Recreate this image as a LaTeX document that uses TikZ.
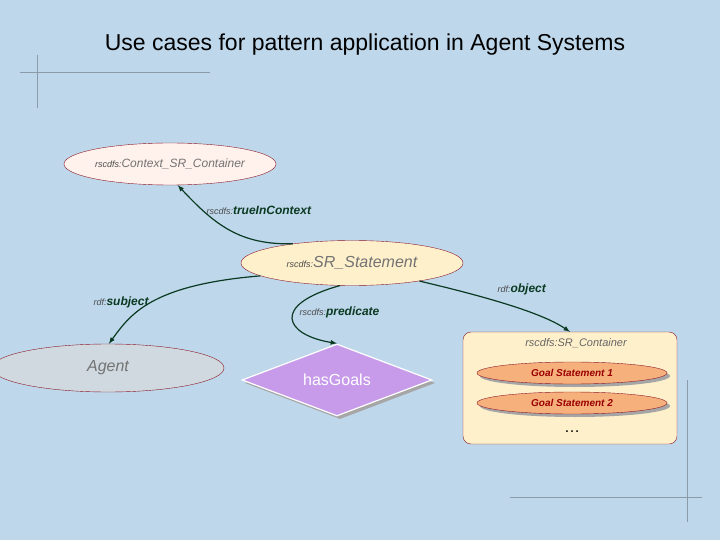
\documentclass[tikz,border=0pt]{standalone}
\usepackage{fontspec}
\setmainfont{Liberation Sans}
\usetikzlibrary{calc,positioning,shapes.geometric,arrows}
\definecolor{bg}{HTML}{BED7EB}
\definecolor{edge}{HTML}{0B3A22}
\definecolor{rim}{HTML}{8B1A2A}
\definecolor{ctx}{HTML}{FFF1EC}
\definecolor{stmt}{HTML}{FFF0CC}
\definecolor{agent}{HTML}{D0D9DF}
\definecolor{pred}{HTML}{C79BEA}
\definecolor{goal}{HTML}{F6B07C}
\definecolor{deco}{HTML}{8C9BAA}
\tikzset{
  res/.style={ellipse,draw=rim,inner sep=0pt,font=\itshape,text=black!55},
  rel/.style={edge,very thick,-latex},
  lbl/.style={font=\itshape\fontsize{12}{14}\selectfont,text=edge},
  goalst/.style={ellipse,draw=rim,fill=goal,minimum width=190pt,minimum height=22pt,inner sep=0pt,
    font=\bfseries\itshape\fontsize{10}{12}\selectfont,text=red!60!black}
}
\newcommand{\pre}[1]{{\fontsize{9}{10}\selectfont\mdseries\color{black!70}#1}}
\newcommand{\fs}[1]{\fontsize{#1}{#1}\selectfont}
\begin{document}
\begin{tikzpicture}[x=1pt,y=-1pt]
\fill[bg] (0,0) rectangle (720,540);
\useasboundingbox (0,0) rectangle (720,540);
% decoration
\draw[deco] (37,55) -- (37,108) (20,72) -- (210,72);
\draw[deco] (687,380) -- (687,522) (510,497) -- (702,497);
\node (title) at (365,45) {\fs{23}Use cases for pattern application in Agent Systems};

\node (ctx) [res,fill=ctx,minimum width=200pt,minimum height=42pt] at (170,164) {\pre{rscdfs:}\fs{12}Context\_SR\_Container};
\node (stmt) [res,fill=stmt,minimum width=222pt,minimum height=45pt] at (352,263) {\pre{rscdfs:}\fs{16}SR\_Statement};
\node (agent) [res,fill=agent,minimum width=232pt,minimum height=48pt] at (108,368) {\fs{16}Agent};
\node (predshadow) [diamond,fill=black!35,minimum width=190pt,minimum height=72pt,inner sep=0pt,aspect=2.6] at (340,383) {};
\node (pred) [diamond,draw=white,very thick,fill=pred,minimum width=190pt,minimum height=72pt,inner sep=0pt,aspect=2.6,
  text=white,font=\fs{16}] at (337,380) {hasGoals};
\node (box) [draw=rim,fill=stmt,rounded corners=8pt,minimum width=214pt,minimum height=112pt] at (570,388) {};
\node (boxlbl) [font=\itshape\fs{11},text=black!60] at (576,343) {rscdfs:SR\_Container};
\foreach \i/\y in {1/373,2/403}{
  \fill[black!35] (575,\y+3) ellipse (95pt and 11pt);
  \node (g\i) [goalst] at (572,\y) {Goal Statement \i};
}
\node (dots) [font=\fs{16}] at (572,432) {\dots};

\draw[rel] (stmt.162) .. controls (240,245) and (215,225) .. (ctx.290);
\draw[rel] (stmt.188) .. controls (150,285) and (130,315) .. (agent.88);
\draw[rel] (stmt.242) .. controls (270,305) and (285,335) .. (pred.north);
\draw[rel] (stmt.345) .. controls (500,300) and (545,315) .. (box.90);

\node (l1) [lbl,anchor=west] at (203,210) {\pre{rscdfs:}\textbf{trueInContext}};
\node (l2) [lbl,anchor=west] at (90,302) {\pre{rdf:}\textbf{subject}};
\node (l3) [lbl,anchor=west] at (296,312) {\pre{rscdfs:}\textbf{predicate}};
\node (l4) [lbl,anchor=west] at (494,289) {\pre{rdf:}\textbf{object}};
\end{tikzpicture}
\end{document}
